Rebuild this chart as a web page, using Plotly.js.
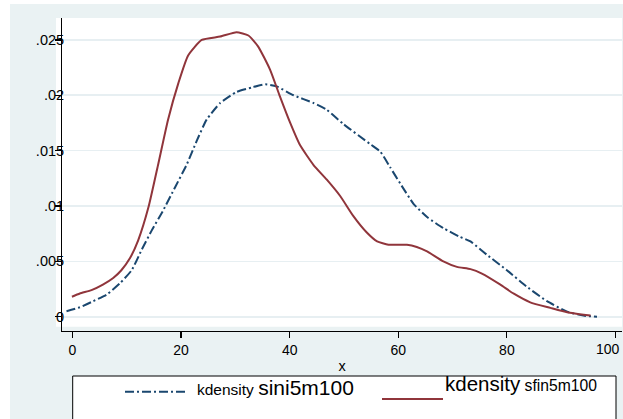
<!DOCTYPE html>
<html>
<head>
<meta charset="utf-8">
<script src="https://cdn.plot.ly/plotly-3.0.1.min.js"></script>
<style>html,body{margin:0;padding:0;background:#fff;}#chart{width:623px;height:419px;}</style>
</head>
<body>
<div id="chart"></div>
<script>
// Data
var siniX = [-1.1, 1.35, 3.8, 6.3, 8.7, 10.9, 12.7, 14.6, 16.7, 18.9, 21.0, 22.9, 24.7, 27.2, 30.2, 33.0, 35.5, 37.6, 40.7, 44.4, 46.8, 49.9, 54.8, 56.7, 58.5, 60.4, 62.8, 65.3, 68.3, 71.4, 73.3, 76.3, 80.0, 83.7, 87.4, 91.1, 94.1, 96.6];
var siniY = [.0005, .00085, .0014, .002, .003, .0042, .006, .0078, .0096, .0117, .0137, .0159, .0178, .0193, .0203, .0207, .0210, .0208, .0200, .0193, .0187, .0174, .0156, .0149, .0135, .0120, .0102, .0090, .0080, .0072, .0068, .0056, .0042, .0027, .0014, .00045, .0001, .0000];
var sfinX = [-0.1, 1.35, 3.5, 5.6, 7.5, 9.0, 10.6, 12.1, 14.0, 15.8, 17.6, 19.5, 21.3, 23.8, 27.2, 30.2, 32.4, 34.2, 36.4, 38.2, 40.1, 41.9, 44.4, 46.8, 49.3, 51.7, 54.2, 56.1, 58.2, 61.6, 63.4, 65.3, 68.3, 70.8, 73.3, 75.4, 78.8, 81.2, 84.3, 88.0, 91.1, 95.4];
var sfinY = [.0018, .0021, .0024, .0029, .0035, .0042, .0053, .0069, .0099, .0138, .0178, .0211, .0236, .0250, .0253, .0257, .0254, .0244, .0223, .0199, .0175, .0155, .0137, .0124, .0109, .0091, .0076, .0068, .0065, .0065, .0063, .0059, .0050, .0045, .0043, .0039, .0029, .0021, .0013, .0008, .0004, .0001];
var xTickVals = [0, 20, 40, 60, 80, 100];
var xTickText = ['0', '20', '40', '60', '80', '100'];
var yTickVals = [0, 0.005, 0.01, 0.015, 0.02, 0.025];
var yTickText = ['0', '.005', '.01', '.015', '.02', '.025'];
var seriesNames = ['sini5m100', 'sfin5m100'];
var xTitle = 'x';

var BLUE = '#1a476f', RED = '#90353b', BG = '#eaf2f3';
var W = 623, H = 419, L = 62, R = 622, T = 18, B = 331;
function px(x){ return (x - L) / (R - L); }
function py(y){ return (B - y) / (B - T); }
var FONT = 'Arial, "Liberation Sans", sans-serif';

var traces = [
  {x: siniX, y: siniY, type: 'scatter', mode: 'lines', name: 'kdensity ' + seriesNames[0],
   line: {color: BLUE, width: 2, dash: '9px,3px,2px,3px', shape: 'spline', smoothing: 0.5}, hoverinfo: 'skip'},
  {x: sfinX, y: sfinY, type: 'scatter', mode: 'lines', name: 'kdensity ' + seriesNames[1],
   line: {color: RED, width: 2, shape: 'spline', smoothing: 0.5}, hoverinfo: 'skip'}
];

var shapes = [
  {type: 'rect', xref: 'paper', yref: 'paper', x0: px(-5), x1: px(W + 5), y0: py(4), y1: py(-5), fillcolor: '#ffffff', line: {width: 0}, layer: 'below'},
  {type: 'rect', xref: 'paper', yref: 'paper', x0: px(-5), x1: px(10), y0: py(H + 5), y1: py(-5), fillcolor: '#ffffff', line: {width: 0}, layer: 'below'},
  {type: 'rect', xref: 'paper', yref: 'paper', x0: px(56), x1: px(62), y0: py(326.7), y1: py(18), fillcolor: '#ffffff', line: {width: 0}, layer: 'below'},
  {type: 'rect', xref: 'paper', yref: 'paper', x0: px(62), x1: px(622), y0: py(331), y1: py(326.7), fillcolor: BG, line: {width: 0}, layer: 'below'},
  {type: 'rect', xref: 'paper', yref: 'paper', x0: px(72.7), x1: px(616), y0: py(440), y1: py(376), fillcolor: '#ffffff', line: {color: '#000000', width: 1}},
  {type: 'line', xref: 'paper', yref: 'paper', x0: px(125), x1: px(186), y0: py(391.7), y1: py(391.7), line: {color: BLUE, width: 2, dash: '9px,3px,2px,3px'}},
  {type: 'line', xref: 'paper', yref: 'paper', x0: px(382), x1: px(443), y0: py(399), y1: py(399), line: {color: RED, width: 2}}
];

var lastIdx = xTickVals.length - 1;
var annotations = [
  {xref: 'paper', yref: 'paper', x: px(195), y: py(401), xanchor: 'left', yanchor: 'bottom', showarrow: false,
   text: 'kdensity <span style="font-size:21px">' + seriesNames[0] + '</span>', font: {family: FONT, size: 15.5, color: '#000'}},
  {xref: 'paper', yref: 'paper', x: px(443), y: py(397), xanchor: 'left', yanchor: 'bottom', showarrow: false,
   text: '<span style="font-size:20.5px">kdensity</span> ' + seriesNames[1], font: {family: FONT, size: 15.7, color: '#000'}},
  // last x tick label, kept inside the picture's right edge
  {xref: 'paper', yref: 'paper', x: px(622), y: py(349), xanchor: 'right', yanchor: 'middle', showarrow: false,
   text: xTickText[lastIdx], font: {family: FONT, size: 14, color: '#000'}}
];

var shownTickText = xTickText.map(function(t, i){ return i === lastIdx ? ' ' : t; });

var layout = {
  width: W, height: H,
  margin: {l: L, r: W - R, t: T, b: H - B, pad: 0},
  paper_bgcolor: BG, plot_bgcolor: '#ffffff',
  font: {family: FONT, size: 14, color: '#000'},
  showlegend: false,
  xaxis: {range: [-1.93, 101.2], tickvals: xTickVals, ticktext: shownTickText,
    showgrid: false, zeroline: false, showline: true, linecolor: '#000', linewidth: 1,
    ticks: 'outside', ticklen: 6, tickwidth: 1.2, tickcolor: '#000',
    tickfont: {family: FONT, size: 14, color: '#000'},
    title: {text: xTitle, font: {family: FONT, size: 14.5, color: '#000'}, standoff: 4}},
  yaxis: {range: [-0.00129, 0.02698], tickvals: yTickVals, ticktext: yTickText,
    showgrid: true, gridcolor: '#e7eff2', gridwidth: 1.6, zeroline: false,
    showline: true, linecolor: '#000', linewidth: 1,
    ticks: 'outside', ticklen: 6, tickwidth: 1.2, tickcolor: '#000',
    ticklabelstandoff: -12, ticklabeloverflow: 'allow',
    tickfont: {family: FONT, size: 14.5, color: '#000'}},
  shapes: shapes,
  annotations: annotations
};

Plotly.newPlot('chart', traces, layout, {displayModeBar: false, staticPlot: true});
</script>
</body>
</html>
